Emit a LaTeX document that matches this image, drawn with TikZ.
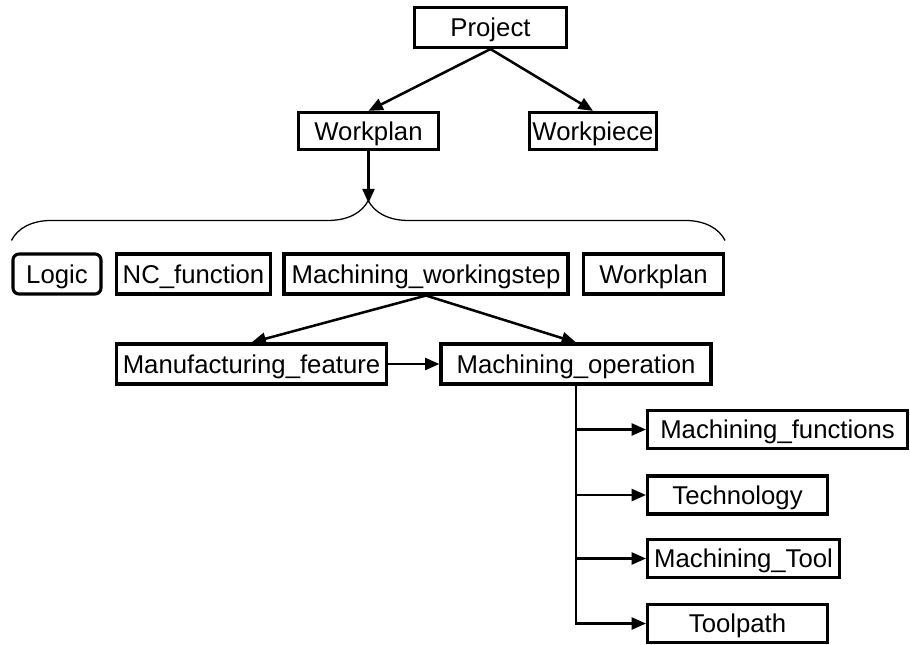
\documentclass[tikz,border=0pt]{standalone}
\usepackage{fontspec}
\setmainfont{Liberation Sans}
\usetikzlibrary{shapes, arrows.meta, positioning, decorations.pathreplacing}
\tikzstyle{box} = [rectangle, minimum height=1cm, inner sep=2pt, text centered, text height=13.1pt, text depth=0pt, draw=black, line width=2.2pt, font=\fontsize{18.3}{21}\selectfont]
\tikzstyle{logicbox} = [box, rounded corners=0.15cm]
\tikzstyle{line} = [draw, line width=1.8pt, -{Triangle[length=0.36cm, width=0.3cm]}]
\tikzstyle{bracket} = [draw, line width=0.9pt, decorate, decoration={brace, amplitude=1cm}]

\begin{document}
\begin{tikzpicture}[node distance=2.5cm, auto]
            \useasboundingbox (-12.2625,0.6875) rectangle (10.4875,-15.4125);
            % Draw nodes
            % Top
            \node (project) [box, minimum width=3.8cm] {Project};
            \node (workplan) [box, minimum width=3.5cm, minimum height=0.93cm, below of=project, xshift=-3.05cm, yshift=-0.0875cm] {Workplan};
            \node (workpiece) [box, minimum width=3.15cm, minimum height=0.93cm, right of=workplan, xshift=3.1125cm] {Workpiece};
            
            % Middle row
            \node (wstep) [box, minimum width=7.1cm, below of=workplan, xshift=1.4375cm, yshift=-1.075cm] {Machining\_workingstep};
            \node (ncfunc) [box, minimum width=3.85cm, left of=wstep, xshift=-3.3125cm] {NC\_function};
            \node (logic) [logicbox, minimum width=2.2cm, left of=ncfunc, xshift=-0.9125cm] {Logic};
            \node (subplan) [box, minimum width=3.5cm, right of=wstep, xshift=3.1875cm] {Workplan};
            
            % Lower row
            \node (feature) [box, minimum width=6.75cm, below of=ncfunc, xshift=1.45cm, yshift=0.25cm] {Manufacturing\_feature};
            \node (operation) [box, minimum width=6.75cm, right of=feature, xshift=5.6125cm] {Machining\_operation};
            
            % Right column
            \node (functions) [box, minimum width=6.5cm, minimum height=0.95cm, below of=operation, anchor=west, xshift=1.75cm, yshift=0.8625cm] {Machining\_functions};
            \node (technology) [box, minimum width=4.5cm, minimum height=0.95cm, below=1.6375cm of functions.west, anchor=west] {Technology};
            \node (tool) [box, minimum width=4.8cm, minimum height=0.95cm, below=1.5875cm of technology.west, anchor=west] {Machining\_Tool};
            \node (toolpath) [box, minimum width=4.5cm, minimum height=0.95cm, below=1.625cm of tool.west, anchor=west] {Toolpath};
            
            % Brace ends
            \coordinate [above=0.3cm of logic.north west] (bracel);
            \coordinate [above=0.3cm of subplan.north east] (bracer);
            \coordinate [below=1.3cm of workplan.south] (bracetip);
            
            % Draw lines
            % Top
            \path [line] (project.south) -- (workplan.north);
            \path [line] (project.south) -- (workpiece.north);
            \path [line] (workplan.south) -- (bracetip);
            \path [bracket] (bracel) -- (bracer);
            
            % Middle
            \path [line] (wstep.south) -- (feature.north);
            \path [line] (wstep.south) -- (operation.north);
            \path [line] (feature) -- (operation);
            
            % Right column
            \path [line] (operation.south) |- (functions);
            \path [line] (operation.south) |- (technology);
            \path [line] (operation.south) |- (tool);
            \path [line] (operation.south) |- (toolpath);
        \end{tikzpicture}
\end{document}
